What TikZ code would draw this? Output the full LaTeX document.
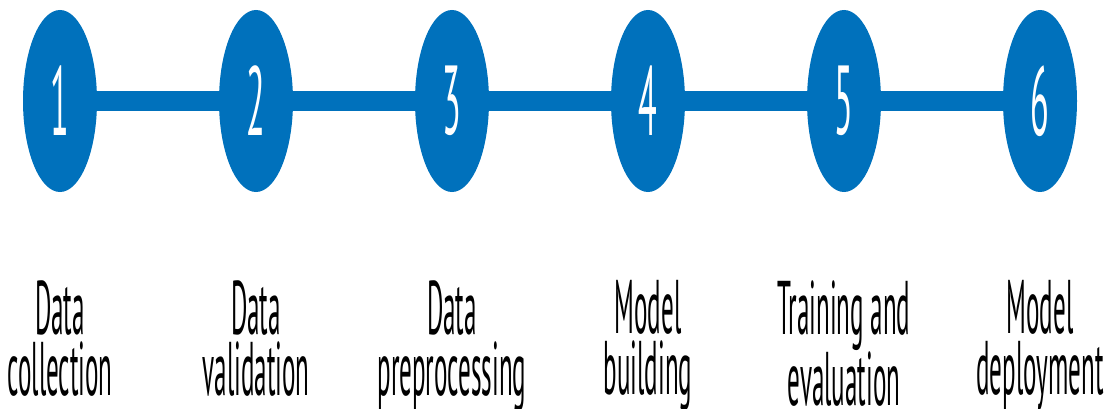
\documentclass[tikz,border=0pt]{standalone}
\usepackage{fontspec}
\setmainfont{PT Sans}
\newfontfamily\narrowfont{PT Sans}[FakeStretch=0.33]
\newfontfamily\digitfont{PT Sans}[FakeStretch=0.35]
\usetikzlibrary{shapes.geometric,positioning}
\definecolor{stageblue}{RGB}{0,113,188}
\tikzset{
  stagedot/.style={ellipse, fill=stageblue, inner sep=0pt, minimum width=74pt,
    minimum height=182pt, text=white, font=\digitfont\fontsize{98}{98}\selectfont},
  stagelabel/.style={align=center, inner sep=0pt, font=\narrowfont\fontsize{76}{61}\selectfont},
  link/.style={stageblue, line width=19pt}
}
\begin{document}
\begin{tikzpicture}[x=1pt, y=1pt]
  \useasboundingbox (0,0) rectangle (1109,408);
  % stages of the pipeline
  \node[stagedot] (c1) at (60,307) {1};
  \node[stagedot] (c2) at (256,307) {2};
  \node[stagedot] (c3) at (452,307) {3};
  \node[stagedot] (c4) at (648,307) {4};
  \node[stagedot] (c5) at (844,307) {5};
  \node[stagedot] (c6) at (1040,307) {6};
  % connecting bar
  \draw[link] (c1) -- (c2);
  \draw[link] (c2) -- (c3);
  \draw[link] (c3) -- (c4);
  \draw[link] (c4) -- (c5);
  \draw[link] (c5) -- (c6);
  % names of the stages
  \node[stagelabel, below=88pt of c1] (l1) {Data\\collection};
  \node[stagelabel, below=88pt of c2] (l2) {Data\\validation};
  \node[stagelabel, below=88pt of c3] (l3) {Data\\preprocessing};
  \node[stagelabel, below=88pt of c4] (l4) {Model\\building};
  \node[stagelabel, below=88pt of c5] (l5) {Training and\\evaluation};
  \node[stagelabel, below=88pt of c6] (l6) {Model\\deployment};
\end{tikzpicture}
\end{document}
